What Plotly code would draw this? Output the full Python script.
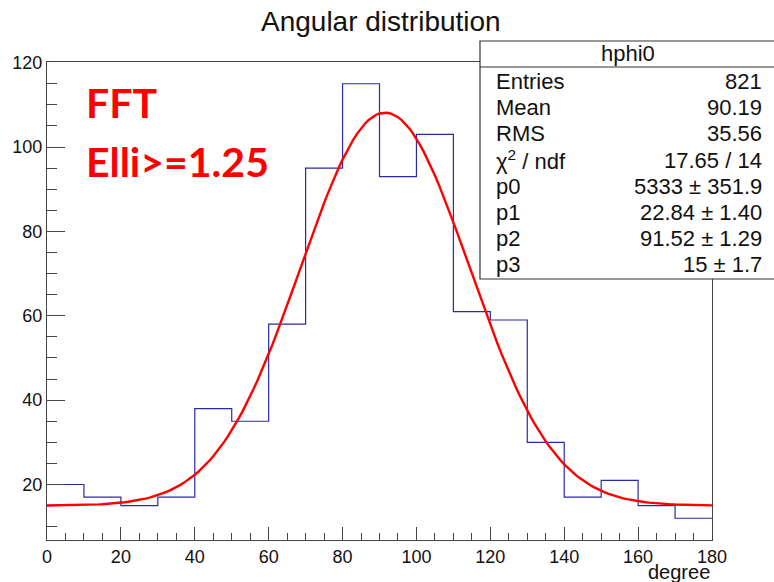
import numpy as np
import plotly.graph_objects as go

# Histogram hphi0: 18 bins of 10 degrees from 0 to 180
bin_edges = [0, 10, 20, 30, 40, 50, 60, 70, 80, 90, 100, 110, 120, 130, 140, 150, 160, 170, 180]
counts = [20, 17, 15, 17, 38, 35, 58, 95, 115, 93, 103, 61, 59, 30, 17, 21, 15, 12]

# Fit parameters (gaussian + constant)
fit_params = [5333, 22.84, 91.52, 15]

stat_labels = ["Entries", "Mean", "RMS", "\u03c7<sup>2</sup> / ndf", "p0", "p1", "p2", "p3"]
stat_values = ["821", "90.19", "35.56", "17.65 / 14", "5333 \u00b1 351.9",
               "22.84 \u00b1 1.40", "91.52 \u00b1 1.29", "15 \u00b1 1.7"]

W, H = 774, 582
L, R, T, B = 47, 712, 62, 540  # frame in pixels


def px(x):
    return (x - L) / (R - L)


def py(y):
    return (B - y) / (B - T)


FONT = "Liberation Sans, Arial, Helvetica, sans-serif"

p0, p1, p2, p3 = fit_params
xf = np.linspace(0, 180, 181)
yf = p0 / (np.sqrt(2 * np.pi) * p1) * np.exp(-0.5 * ((xf - p2) / p1) ** 2) + p3

fig = go.Figure()
fig.add_trace(go.Scatter(
    x=bin_edges, y=counts + [counts[-1]], mode="lines",
    line=dict(shape="hv", color="#2a2aa8", width=1.2), hoverinfo="skip"))
fig.add_trace(go.Scatter(
    x=xf, y=yf, mode="lines", line=dict(color="#ff0000", width=2.4), hoverinfo="skip"))

axis_common = dict(showgrid=False, zeroline=False, showline=True, linecolor="#444",
                   linewidth=1, mirror=True, ticks="inside", tickcolor="#444",
                   tickfont=dict(family=FONT, size=18, color="#111"))

fig.update_xaxes(range=[0, 180], tickvals=[0, 20, 40, 60, 80, 100, 120, 140, 160, 180],
                 ticklen=13, minor=dict(dtick=5, ticks="inside", ticklen=7, tickcolor="#444"),
                 **axis_common)
fig.update_yaxes(range=[6.85, 120.15], tickvals=[20, 40, 60, 80, 100, 120],
                 ticklen=18, minor=dict(dtick=5, ticks="inside", ticklen=10, tickcolor="#444"),
                 **axis_common)

annotations = [
    dict(text="Angular distribution", x=px(381), y=py(21), xref="paper", yref="paper",
         showarrow=False, xanchor="center", yanchor="middle",
         font=dict(family=FONT, size=28, color="#111")),
    dict(text="degree", x=1, y=py(572), xref="paper", yref="paper", showarrow=False,
         xanchor="right", yanchor="middle", font=dict(family=FONT, size=20, color="#111")),
    dict(text="FFT", x=px(84), y=py(103), xref="paper", yref="paper", showarrow=False,
         xanchor="left", yanchor="middle",
         font=dict(family="Lato", size=41, color="#ff0000", weight="bold")),
    dict(text="Elli>=1.25", x=px(84), y=py(161), xref="paper", yref="paper", showarrow=False,
         xanchor="left", yanchor="middle",
         font=dict(family="Lato", size=41, color="#ff0000", weight="bold")),
    dict(text="hphi0", x=px(628), y=py(54), xref="paper", yref="paper", showarrow=False,
         xanchor="center", yanchor="middle", font=dict(family=FONT, size=22, color="#111")),
]

row_y0, row_dy = 81.5, 26.2
for i, (lab, val) in enumerate(zip(stat_labels, stat_values)):
    yy = py(row_y0 + i * row_dy)
    annotations.append(dict(text=lab, x=px(494), y=yy, xref="paper", yref="paper",
                            showarrow=False, xanchor="left", yanchor="middle",
                            font=dict(family=FONT, size=22, color="#111")))
    annotations.append(dict(text=val, x=px(764), y=yy, xref="paper", yref="paper",
                            showarrow=False, xanchor="right", yanchor="middle",
                            font=dict(family=FONT, size=22, color="#111")))

shapes = [
    dict(type="rect", xref="paper", yref="paper", x0=px(480), x1=px(790), y0=py(279), y1=py(41),
         line=dict(color="#333", width=1.2), fillcolor="white", layer="above"),
    dict(type="line", xref="paper", yref="paper", x0=px(480), x1=px(790), y0=py(67), y1=py(67),
         line=dict(color="#333", width=1.2), layer="above"),
]

fig.update_layout(
    width=W, height=H, margin=dict(l=L, r=W - R, t=T, b=H - B),
    plot_bgcolor="white", paper_bgcolor="white", showlegend=False,
    annotations=annotations, shapes=shapes,
)

fig.write_html("out.html")
